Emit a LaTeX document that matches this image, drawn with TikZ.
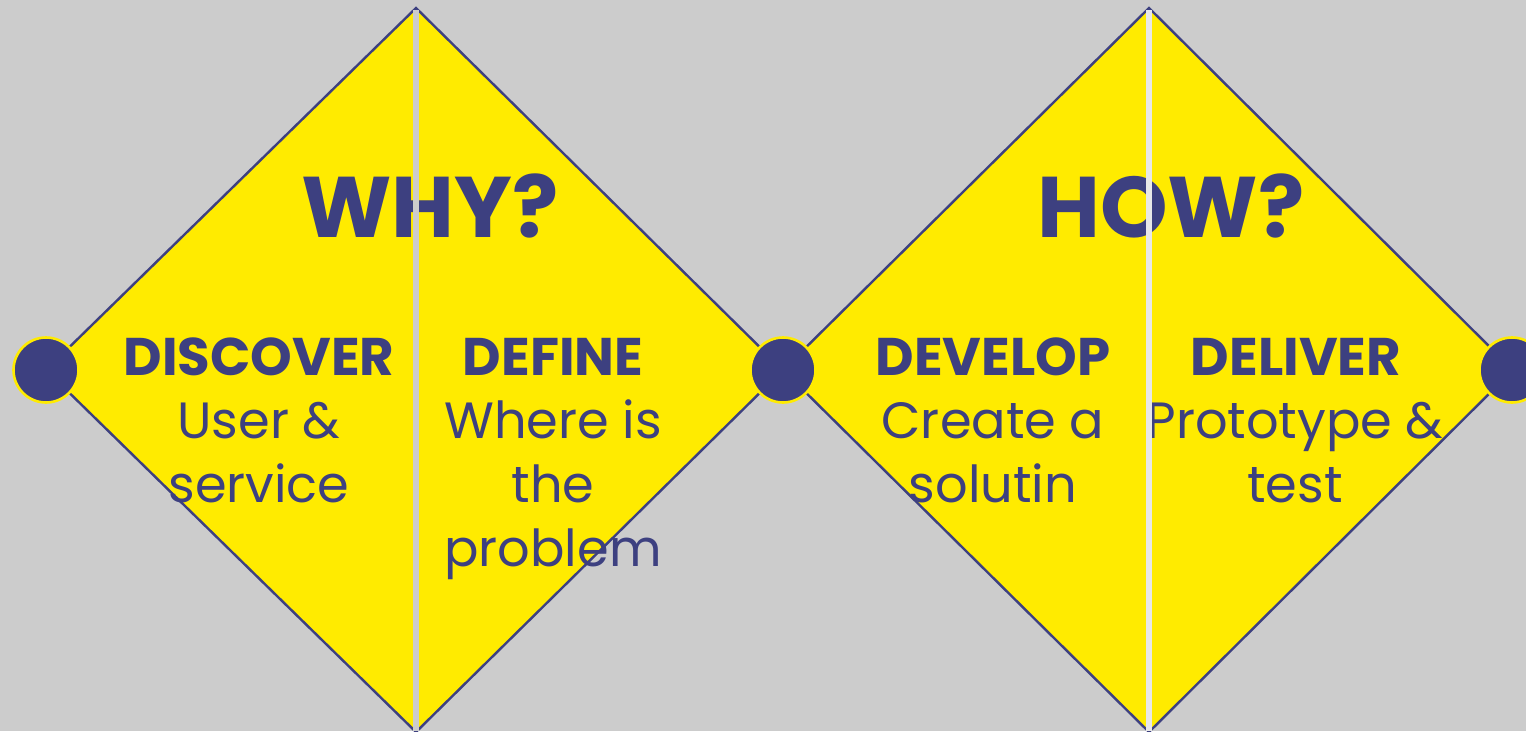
\documentclass[tikz,border=0pt]{standalone}
\usepackage{fontspec}
\setmainfont{Poppins}
\definecolor{bg}{HTML}{CCCCCC}
\definecolor{ylw}{HTML}{FFEB00}
\definecolor{navy}{HTML}{3D4080}
\definecolor{gapA}{HTML}{CCCCCC}
\definecolor{gapB}{HTML}{E8E8E8}
\tikzset{
  diamondfill/.style={fill=ylw},
  diamondedge/.style={draw=navy,line width=2.4pt,line join=miter},
  dot/.style={circle,fill=navy,draw=ylw,line width=2.6pt,minimum size=65pt,inner sep=0pt},
  bigq/.style={anchor=base,text=navy,inner sep=0pt,font=\fontsize{86}{86}\selectfont\bfseries},
  head/.style={anchor=base,text=navy,inner sep=0pt,font=\fontsize{53}{53}\selectfont\bfseries},
  body/.style={anchor=base,text=navy,inner sep=0pt,font=\fontsize{51}{51}\selectfont},
}
\begin{document}
\begin{tikzpicture}[x=1pt,y=-1pt]
\fill[bg] (0,0) rectangle (1526,731);
\useasboundingbox (0,0) rectangle (1526,731);
% diamond corners
\coordinate (t1) at (416,8);
\coordinate (l1) at (46,370);
\coordinate (b1) at (416,732);
\coordinate (r1) at (783,370);
\coordinate (t2) at (1149,8);
\coordinate (b2) at (1149,732);
\coordinate (r2) at (1513,370);
\fill[diamondfill] (t1) -- (l1) -- (b1) -- (r1) -- cycle;
\fill[diamondfill] (t2) -- (r1) -- (b2) -- (r2) -- cycle;
% texts
\node[bigq] (why) at (430,237) {WHY?};
\node[bigq] (how) at (1171,237) {HOW?};
\node[head] (discover) at (259,375) {DISCOVER};
\node[body] (d1) at (259,438) {User \&};
\node[body] (d2) at (259,502) {service};
\node[head] (define) at (553,375) {DEFINE};
\node[body] (f1) at (553,438) {Where is};
\node[body] (f2) at (553,502) {the};
\node[body] (f3) at (553,566) {problem};
\node[head] (develop) at (993,375) {DEVELOP};
\node[body] (v1) at (993,438) {Create a};
\node[body] (v2) at (993,502) {solutin};
\node[head] (deliver) at (1296,375) {DELIVER};
\node[body] (p1) at (1295,438) {Prototype \&};
\node[body] (p2) at (1295,502) {test};
% outlines
\draw[diamondedge] (t1) -- (l1) -- (b1) -- (r1) -- cycle;
\draw[diamondedge] (t2) -- (r1) -- (b2) -- (r2) -- cycle;
% split gaps
\fill[gapA] (413,10) rectangle (419,731);
\fill[gapB] (1146,10) rectangle (1152,731);
% dots
\node[dot] (c1) at (l1) {};
\node[dot] (c2) at (r1) {};
\node[dot] (c3) at (1512,370) {};
\end{tikzpicture}
\end{document}
